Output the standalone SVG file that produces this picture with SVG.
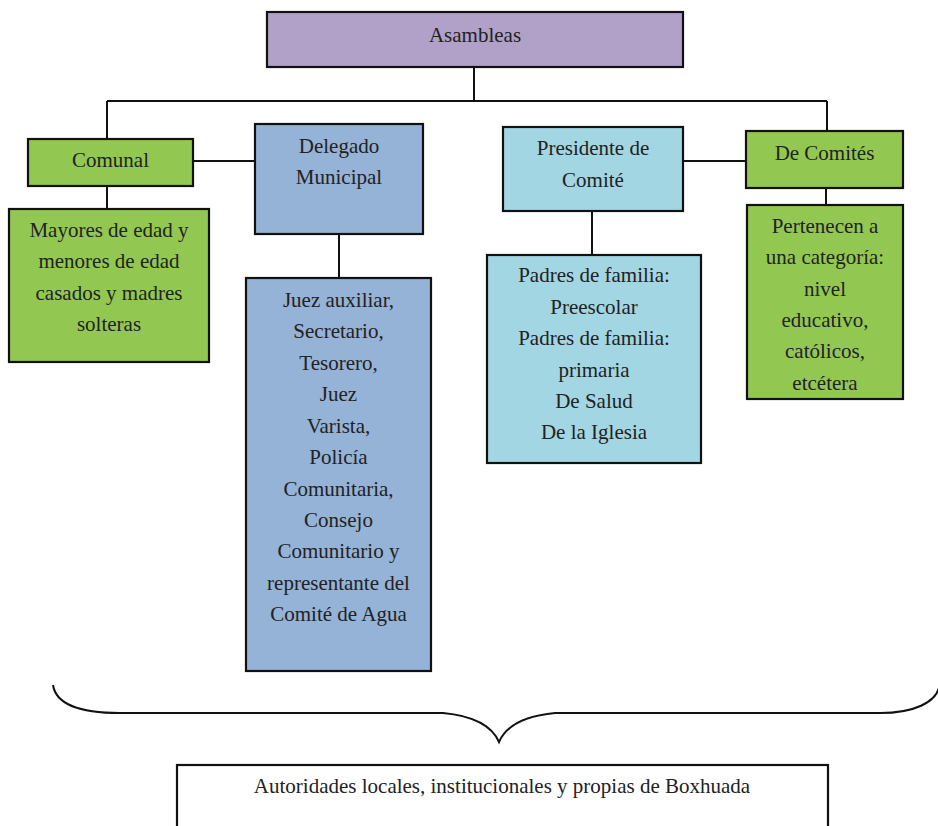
<svg xmlns="http://www.w3.org/2000/svg" width="938" height="826" viewBox="0 0 938 826">
<style>
.box{stroke:#111;stroke-width:2.2}
.purple{fill:#B1A1C8}
.green{fill:#92C852}
.blue{fill:#95B2D7}
.cyan{fill:#A3D6E3}
.white{fill:#fff}
.conn{stroke:#111;stroke-width:2;fill:none}
</style>
<rect width="938" height="826" fill="#fff"/>
<g id="connectors">
<path class="conn" d="M474 67V101M107 101H827M107 101V139M827 101V131"/>
<path class="conn" d="M193 161H255M683 161H746"/>
<path class="conn" d="M107 186V209M339 234V278M592 211V255M826 188V205"/>
<path class="conn" d="M53 685C56 705 80 713 120 713H443C475 716 492 726 499 742C506 726 523 716 555 713H880C915 713 935 702 939 688" stroke-width="1.5"/>
</g>
<g font-family="Liberation Serif, serif" font-size="21" fill="#222" text-anchor="middle">
<g id="asambleas"><rect class="box purple" x="267" y="12" width="416" height="55"/><text x="475" y="42">Asambleas</text></g>
<g id="comunal"><rect class="box green" x="28" y="139" width="165" height="47"/><text x="110.5" y="167">Comunal</text></g>
<g id="delegado"><rect class="box blue" x="255" y="124" width="168" height="110"/><text x="339" y="153">Delegado</text><text x="339" y="184">Municipal</text></g>
<g id="presidente"><rect class="box cyan" x="503" y="127" width="180" height="84"/><text x="593" y="155">Presidente de</text><text x="593" y="187">Comité</text></g>
<g id="decomites"><rect class="box green" x="746" y="131" width="157" height="57"/><text x="824.5" y="160">De Comités</text></g>
<g id="mayores"><rect class="box green" x="9" y="209" width="200" height="153"/>
<text x="109" y="237">Mayores de edad y</text><text x="109" y="268">menores de edad</text><text x="109" y="300">casados y madres</text><text x="109" y="331">solteras</text></g>
<g id="juez"><rect class="box blue" x="246" y="278" width="185" height="393"/>
<text x="338.5" y="307">Juez auxiliar,</text><text x="338.5" y="338">Secretario,</text><text x="338.5" y="370">Tesorero,</text><text x="338.5" y="401">Juez</text><text x="338.5" y="433">Varista,</text><text x="338.5" y="464">Policía</text><text x="338.5" y="496">Comunitaria,</text><text x="338.5" y="527">Consejo</text><text x="338.5" y="558">Comunitario y</text><text x="338.5" y="590">representante del</text><text x="338.5" y="621">Comité de Agua</text></g>
<g id="padres"><rect class="box cyan" x="487" y="255" width="214" height="208"/>
<text x="594" y="282">Padres de familia:</text><text x="594" y="314">Preescolar</text><text x="594" y="345">Padres de familia:</text><text x="594" y="377">primaria</text><text x="594" y="408">De Salud</text><text x="594" y="439">De la Iglesia</text></g>
<g id="pertenecen"><rect class="box green" x="747" y="205" width="156" height="194"/>
<text x="825" y="233">Pertenecen a</text><text x="825" y="264">una categoría:</text><text x="825" y="296">nivel</text><text x="825" y="327">educativo,</text><text x="825" y="358">católicos,</text><text x="825" y="390">etcétera</text></g>
<g id="autoridades"><rect class="box white" x="177" y="765" width="651" height="70"/><text x="502" y="793" font-size="21">Autoridades locales, institucionales y propias de Boxhuada</text></g>
</g>
</svg>
